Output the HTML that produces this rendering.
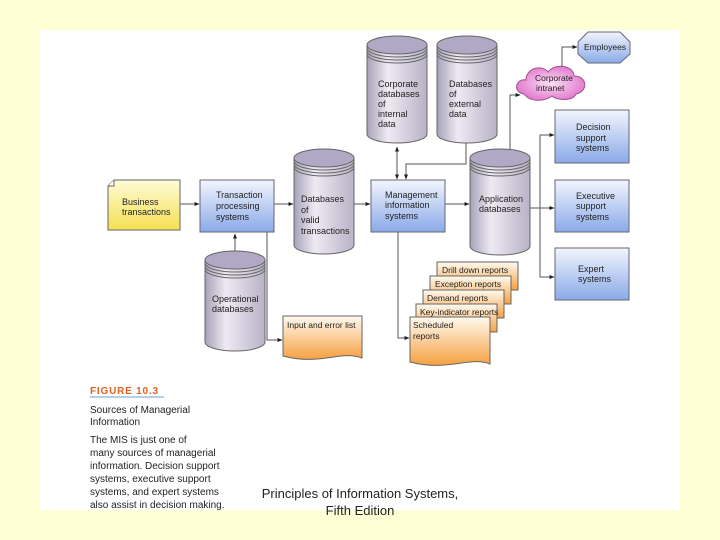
<!DOCTYPE html>
<html><head><meta charset="utf-8"><style>
html,body{margin:0;padding:0;background:#ffffd6;}
svg{display:block;font-family:"Liberation Sans",sans-serif;}
</style></head><body>
<svg width="720" height="540" viewBox="0 0 720 540" xmlns="http://www.w3.org/2000/svg">
<defs>
<linearGradient id="blue" x1="0" y1="0" x2="0" y2="1"><stop offset="0" stop-color="#f2f5fd"/><stop offset="1" stop-color="#8aaae8"/></linearGradient>
<linearGradient id="yel" x1="0" y1="0" x2="0" y2="1"><stop offset="0" stop-color="#fffbd8"/><stop offset="1" stop-color="#f5e050"/></linearGradient>
<linearGradient id="org" x1="0" y1="0" x2="0" y2="1"><stop offset="0" stop-color="#fffaf0"/><stop offset="1" stop-color="#f5a040"/></linearGradient>
<linearGradient id="cyl" x1="0" y1="0" x2="1" y2="0"><stop offset="0" stop-color="#a8a2b8"/><stop offset="0.35" stop-color="#eeeaf2"/><stop offset="1" stop-color="#b8b2c6"/></linearGradient>
<radialGradient id="pink"><stop offset="0" stop-color="#fbe0f5"/><stop offset="1" stop-color="#e37fd0"/></radialGradient>
<marker id="a" viewBox="0 0 10 10" refX="9" refY="5" markerWidth="5" markerHeight="5" orient="auto"><path d="M0,1 L10,5 L0,9z" fill="#222"/></marker>
<marker id="s" viewBox="0 0 10 10" refX="1" refY="5" markerWidth="5" markerHeight="5" orient="auto"><path d="M10,1 L0,5 L10,9z" fill="#222"/></marker>
</defs>
<rect x="40" y="30" width="640" height="480" fill="#fff"/>

<g stroke="#555" stroke-width="1" fill="none">
<line x1="180" y1="204" x2="199" y2="204" marker-end="url(#a)"/>
<line x1="274" y1="204" x2="293" y2="204" marker-end="url(#a)"/>
<line x1="354" y1="204" x2="370" y2="204" marker-end="url(#a)"/>
<line x1="445" y1="204" x2="469" y2="204" marker-end="url(#a)"/>
<line x1="235" y1="234" x2="235" y2="258" marker-start="url(#s)" marker-end="url(#a)"/>
<polyline points="267,232 267,340 282,340" marker-end="url(#a)"/>
<line x1="397" y1="147" x2="397" y2="179" marker-start="url(#s)" marker-end="url(#a)"/>
<polyline points="466,143 466,164 406,164 406,179" marker-end="url(#a)"/>
<polyline points="398,232 398,338 409,338" marker-end="url(#a)"/>
<polyline points="510,149 510,95 520,95" marker-end="url(#a)"/>
<polyline points="562,66 562,47 577,47" marker-end="url(#a)"/>
<line x1="530" y1="208" x2="554" y2="208" marker-end="url(#a)"/>
<polyline points="540,208 540,135 554,135" marker-end="url(#a)"/>
<polyline points="540,208 540,277 554,277" marker-end="url(#a)"/>
</g>

<path d="M114,180 H180 V230 H108 V186z" fill="url(#yel)" stroke="#666"/>
<path d="M108,186 L114,186 L114,180" fill="#fff" stroke="#666"/>
<text font-size="9" fill="#222"><tspan x="122" y="205">Business</tspan><tspan x="122" y="215">transactions</tspan></text>

<g stroke="#667" fill="url(#blue)">
<rect x="200" y="180" width="74" height="52"/>
<rect x="371" y="180" width="74" height="52"/>
<rect x="555" y="110" width="74" height="53"/>
<rect x="555" y="180" width="74" height="52"/>
<rect x="555" y="248" width="74" height="52"/>
<polygon points="588,32 620,32 630,42 630,54 620,63 588,63 578,54 578,42"/>
</g>
<g font-size="9" fill="#222">
<text><tspan x="216" y="198">Transaction</tspan><tspan x="216" y="209">processing</tspan><tspan x="216" y="220">systems</tspan></text>
<text><tspan x="385" y="198">Management</tspan><tspan x="385" y="208">information</tspan><tspan x="385" y="219">systems</tspan></text>
<text><tspan x="576" y="130">Decision</tspan><tspan x="576" y="141">support</tspan><tspan x="576" y="151">systems</tspan></text>
<text><tspan x="576" y="199">Executive</tspan><tspan x="576" y="209">support</tspan><tspan x="576" y="220">systems</tspan></text>
<text><tspan x="578" y="272">Expert</tspan><tspan x="578" y="282">systems</tspan></text>
<text x="584" y="50" font-size="8.5">Employees</text>
</g>

<path d="M524,94 C512,92 516,78 526,80 C526,68 542,64 548,72 C556,62 574,66 574,76 C588,76 588,92 576,94 C572,102 556,100 552,96 C544,102 530,102 524,94z" fill="url(#pink)" stroke="#a05090"/>
<text font-size="8.5" fill="#222"><tspan x="535" y="81">Corporate</tspan><tspan x="536" y="91">intranet</tspan></text>

<g stroke="#666">
<path d="M294,158 V245 A30,9 0 0 0 354,245 V158" fill="url(#cyl)"/><ellipse cx="324" cy="158" rx="30" ry="9" fill="#b0a8c4"/><path d="M294,161 A30,9 0 0 0 354,161 M294,164 A30,9 0 0 0 354,164 M294,167 A30,9 0 0 0 354,167" fill="none"/>
<path d="M367,45 V134 A30,9 0 0 0 427,134 V45" fill="url(#cyl)"/><ellipse cx="397" cy="45" rx="30" ry="9" fill="#b0a8c4"/><path d="M367,48 A30,9 0 0 0 427,48 M367,51 A30,9 0 0 0 427,51 M367,54 A30,9 0 0 0 427,54" fill="none"/>
<path d="M437,45 V134 A30,9 0 0 0 497,134 V45" fill="url(#cyl)"/><ellipse cx="467" cy="45" rx="30" ry="9" fill="#b0a8c4"/><path d="M437,48 A30,9 0 0 0 497,48 M437,51 A30,9 0 0 0 497,51 M437,54 A30,9 0 0 0 497,54" fill="none"/>
<path d="M470,158 V246 A30,9 0 0 0 530,246 V158" fill="url(#cyl)"/><ellipse cx="500" cy="158" rx="30" ry="9" fill="#b0a8c4"/><path d="M470,161 A30,9 0 0 0 530,161 M470,164 A30,9 0 0 0 530,164 M470,167 A30,9 0 0 0 530,167" fill="none"/>
<path d="M205,260 V342 A30,9 0 0 0 265,342 V260" fill="url(#cyl)"/><ellipse cx="235" cy="260" rx="30" ry="9" fill="#b0a8c4"/><path d="M205,263 A30,9 0 0 0 265,263 M205,266 A30,9 0 0 0 265,266 M205,269 A30,9 0 0 0 265,269" fill="none"/>
</g>
<g font-size="9" fill="#222">
<text><tspan x="301" y="202">Databases</tspan><tspan x="301" y="213">of</tspan><tspan x="301" y="223">valid</tspan><tspan x="301" y="234">transactions</tspan></text>
<text><tspan x="378" y="87">Corporate</tspan><tspan x="378" y="97">databases</tspan><tspan x="378" y="107">of</tspan><tspan x="378" y="117">internal</tspan><tspan x="378" y="127">data</tspan></text>
<text><tspan x="449" y="87">Databases</tspan><tspan x="449" y="97">of</tspan><tspan x="449" y="107">external</tspan><tspan x="449" y="117">data</tspan></text>
<text><tspan x="479" y="202">Application</tspan><tspan x="479" y="212">databases</tspan></text>
<text><tspan x="212" y="302">Operational</tspan><tspan x="212" y="312">databases</tspan></text>
</g>

<g stroke="#666" fill="url(#org)">
<path d="M283,316 H362 V358 C340,350 320,366 283,356z"/>
<path d="M437,262 H518 V290 H437z"/>
<path d="M430,276 H511 V304 H430z"/>
<path d="M423,290 H504 V318 H423z"/>
<path d="M416,304 H497 V332 H416z"/>
<path d="M410,317 H490 V364 C470,356 448,372 410,362z"/>
</g>
<g font-size="8.5" fill="#222">
<text x="287" y="328">Input and error list</text>
<text x="442" y="273">Drill down reports</text>
<text x="435" y="287">Exception reports</text>
<text x="427" y="301">Demand reports</text>
<text x="420" y="315">Key-indicator reports</text>
<text><tspan x="413" y="328">Scheduled</tspan><tspan x="413" y="339">reports</tspan></text>
</g>

<text x="90" y="394" font-size="10" font-weight="bold" fill="#e06020" letter-spacing="0.8">FIGURE 10.3</text>
<line x1="90" y1="397" x2="164" y2="397" stroke="#6aa0d0" stroke-width="1"/>
<g font-size="10" fill="#222">
<text><tspan x="90" y="413">Sources of Managerial</tspan><tspan x="90" y="425">Information</tspan></text>
<text><tspan x="90" y="443">The MIS is just one of</tspan><tspan x="90" y="456">many sources of managerial</tspan><tspan x="90" y="469">information. Decision support</tspan><tspan x="90" y="482">systems, executive support</tspan><tspan x="90" y="495">systems, and expert systems</tspan><tspan x="90" y="508">also assist in decision making.</tspan></text>
</g>
<g font-size="13" fill="#222" text-anchor="middle">
<text x="360" y="498">Principles of Information Systems,</text>
<text x="360" y="515">Fifth Edition</text>
</g>
</svg>
</body></html>
